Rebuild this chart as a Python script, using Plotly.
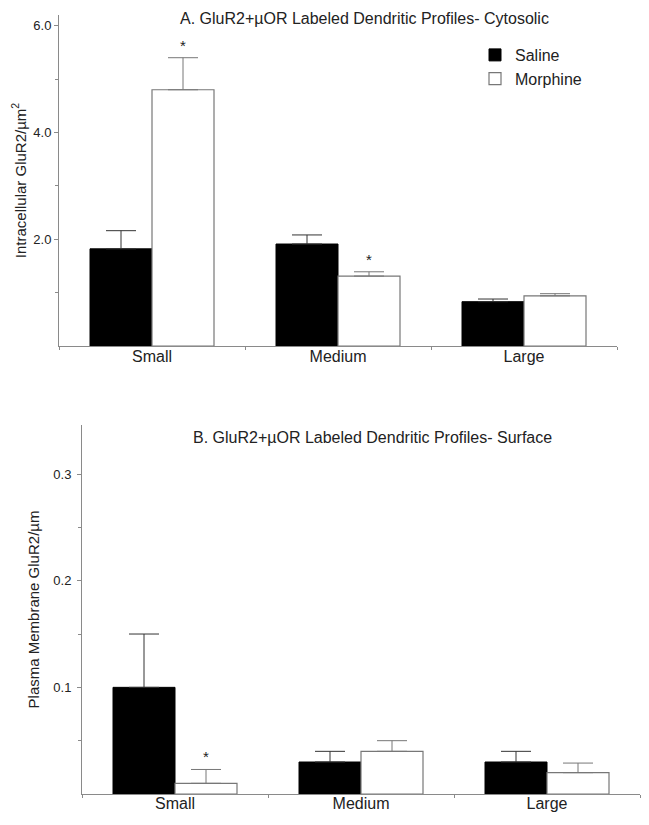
import plotly.graph_objects as go

# data
sizes = ["Small", "Medium", "Large"]

cyto_saline = [1.82, 1.91, 0.83]
cyto_saline_err = [0.34, 0.17, 0.05]
cyto_morphine = [4.80, 1.31, 0.94]
cyto_morphine_err = [0.60, 0.08, 0.04]
cyto_sig = [True, True, False]

surf_saline = [0.10, 0.03, 0.03]
surf_saline_err = [0.05, 0.01, 0.01]
surf_morphine = [0.01, 0.04, 0.02]
surf_morphine_err = [0.013, 0.01, 0.009]
surf_sig = [True, False, False]

FONT = "Arial, Liberation Sans, sans-serif"
TXT = "#222222"
AXC = "#8a8a8a"
EDGE = "#777777"

# the page body has an 8px margin, so the figure is a bit smaller than the window
OFF = 8
W, H = 649 - OFF, 825 - OFF


def px(x):
    return (x - OFF) / W


def py(y):
    return 1 - (y - OFF) / H


fig = go.Figure()


def add_panel(saline, s_err, morph, m_err, xa, ya, show_legend):
    fig.add_trace(go.Bar(
        x=sizes, y=saline, name="Saline", xaxis=xa, yaxis=ya,
        marker=dict(color="black", line=dict(color="black", width=1)),
        error_y=dict(type="data", array=s_err, arrayminus=[0] * len(s_err),
                     symmetric=False, color="#333", thickness=1, width=15),
        offsetgroup="s", showlegend=show_legend))
    # whisker colour matches the bar edge so the bottom cap blends into the outline
    fig.add_trace(go.Bar(
        x=sizes, y=morph, name="Morphine", xaxis=xa, yaxis=ya,
        marker=dict(color="white", line=dict(color=EDGE, width=1.2)),
        error_y=dict(type="data", array=m_err, arrayminus=[0] * len(m_err),
                     symmetric=False, color=EDGE, thickness=1, width=15),
        offsetgroup="m", showlegend=show_legend))


add_panel(cyto_saline, cyto_saline_err, cyto_morphine, cyto_morphine_err, "x", "y", True)
add_panel(surf_saline, surf_saline_err, surf_morphine, surf_morphine_err, "x2", "y2", False)

# significance stars above the morphine bars
for xa, ya, vals, errs, sig in [("x", "y", cyto_morphine, cyto_morphine_err, cyto_sig),
                                ("x2", "y2", surf_morphine, surf_morphine_err, surf_sig)]:
    for cat, v, e, s in zip(sizes, vals, errs, sig):
        if s:
            fig.add_annotation(x=cat, y=v + e, xref=xa, yref=ya, text="*",
                               showarrow=False, xshift=31, yanchor="bottom", yshift=2,
                               font=dict(size=15, color=TXT, family=FONT))

axis_common = dict(showline=True, linecolor=AXC, linewidth=1, showgrid=False, automargin=False,
                   zeroline=False, tickcolor=AXC)
ytick_font = dict(size=13, color=TXT, family=FONT)
xtick_font = dict(size=16, color=TXT, family=FONT)

fig.update_layout(
    width=W, height=H,
    margin=dict(l=0, r=0, t=0, b=0),
    paper_bgcolor="white", plot_bgcolor="white",
    font=dict(family=FONT, color=TXT),
    barmode="group", bargap=1/3, bargroupgap=0,
    showlegend=True,
    legend=dict(x=px(475), y=py(38), xanchor="left", yanchor="top",
                font=dict(size=16, color=TXT, family=FONT),
                bgcolor="rgba(0,0,0,0)", tracegroupgap=0, itemwidth=30),
    xaxis=dict(domain=[px(59), px(617)], anchor="y", ticks="outside", ticklen=3,
               ticklabelstandoff=-4, tickson="boundaries", tickfont=xtick_font, **axis_common),
    yaxis=dict(domain=[py(346), py(15)], anchor="x", range=[0, 6.2],
               tickvals=[2, 4, 6], ticktext=["2.0", "4.0", "6.0"], ticks="outside", ticklen=4,
               minor=dict(tickvals=[1, 3, 5], ticks="outside", ticklen=3, tickcolor=AXC),
               tickfont=ytick_font,
               title=dict(text="Intracellular GluR2/µm<sup>2</sup>",
                          font=dict(size=15, color=TXT, family=FONT), standoff=3),
               **axis_common),
    xaxis2=dict(domain=[px(82), px(640)], anchor="y2", ticks="outside", ticklen=3,
                ticklabelstandoff=-5, tickson="boundaries", tickfont=xtick_font, **axis_common),
    yaxis2=dict(domain=[py(794), py(425)], anchor="x2", range=[0, 0.346],
                tickvals=[0.1, 0.2, 0.3], ticktext=["0.1", "0.2", "0.3"], ticks="outside", ticklen=4,
                ticklabelstandoff=3,
                minor=dict(tickvals=[0.05, 0.15, 0.25], ticks="outside", ticklen=3, tickcolor=AXC),
                tickfont=ytick_font,
                title=dict(text="Plasma Membrane GluR2/µm",
                           font=dict(size=15, color=TXT, family=FONT), standoff=10),
                **axis_common),
)

fig.add_annotation(x=px(364), y=py(18), xref="paper", yref="paper", yanchor="middle",
                   text="A. GluR2+µOR Labeled Dendritic Profiles- Cytosolic",
                   showarrow=False, font=dict(size=16, color=TXT, family=FONT))
fig.add_annotation(x=px(372), y=py(437), xref="paper", yref="paper", yanchor="middle",
                   text="B. GluR2+µOR Labeled Dendritic Profiles- Surface",
                   showarrow=False, font=dict(size=16, color=TXT, family=FONT))

fig.write_html("out.html")
